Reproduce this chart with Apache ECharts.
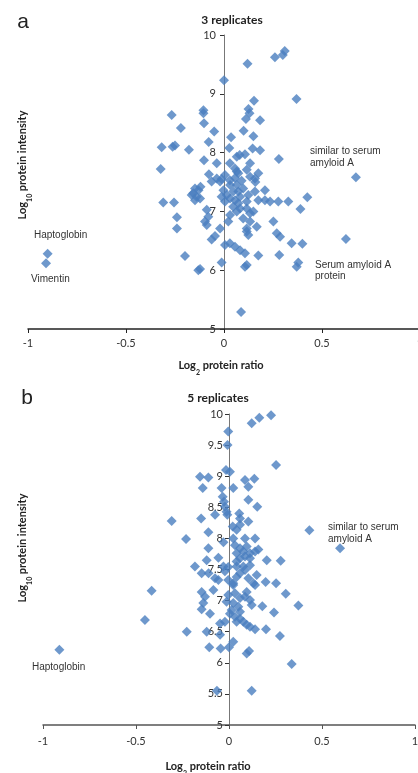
<!DOCTYPE html>
<html>
<head>
<meta charset="utf-8">
<script src="https://cdn.jsdelivr.net/npm/echarts@6/dist/echarts.min.js"></script>
<style>html,body{margin:0;padding:0;background:#fff;}#c{width:418px;height:773px;}</style>
</head>
<body>
<div id="c"></div>
<script>
// Panel a: 3 replicates  [log2 ratio, log10 intensity]
var rep3Points = [
  [0.00,9.23],[0.12,9.51],[0.26,9.62],[0.31,9.73],[0.30,9.66],[0.37,8.91],[0.153,8.88],[0.125,8.74],[0.13,8.67],
  [0.112,8.57],[0.184,8.55],[0.10,8.37],[0.15,8.28],[0.036,8.26],[0.027,8.08],[0.146,8.07],[0.184,8.04],
  [0.08,7.96],[0.065,7.93],[0.107,7.97],[0.28,7.89],[0.673,7.58],
  [-0.267,8.64],[-0.105,8.72],[-0.105,8.67],[-0.22,8.42],[-0.102,8.50],[-0.05,8.36],[-0.078,8.18],
  [-0.318,8.09],[-0.262,8.10],[-0.25,8.12],[-0.179,8.05],[-0.102,7.87],[-0.037,7.82],[-0.323,7.72],
  [-0.077,7.63],[-0.063,7.51],[-0.02,7.51],[-0.037,7.56],[0.005,7.62],
  [0.03,7.82],[0.056,7.73],[0.065,7.68],[0.073,7.65],[0.133,7.82],[0.116,7.71],[0.175,7.65],[0.133,7.59],[0.158,7.56],
  [-0.012,7.55],[0.03,7.53],[0.056,7.57],[0.09,7.52],[0.16,7.50],
  [-0.148,7.39],[-0.13,7.36],[-0.157,7.31],[-0.14,7.25],[-0.122,7.22],[-0.148,7.19],[-0.165,7.28],[-0.12,7.42],
  [-0.31,7.15],[-0.255,7.15],[-0.24,6.90],[-0.24,6.71],[-0.088,7.03],[-0.08,6.91],[-0.097,6.83],[-0.088,6.77],
  [-0.02,6.71],[-0.063,6.52],[-0.046,6.58],[-0.199,6.24],[-0.131,6.00],[-0.122,6.02],[-0.012,6.13],
  [0.014,7.28],[0.031,7.22],[0.005,7.17],[0.056,7.19],[0.073,7.14],[0.047,7.08],[0.082,7.05],[0.065,7.00],
  [0.031,6.94],[0.022,6.83],[0.116,7.05],[0.133,6.97],[0.15,7.00],[0.124,7.28],[0.098,7.39],[0.065,7.45],
  [0.031,7.45],[-0.003,7.36],[-0.012,7.25],[0.082,7.25],[0.047,7.34],[0.073,7.34],[0.116,7.17],
  [0.175,7.19],[0.209,7.19],[0.235,7.17],[0.277,7.17],[0.328,7.17],[0.209,7.36],[0.158,7.34],[0.425,7.24],
  [0.39,7.04],[0.252,6.83],[0.269,6.63],[0.286,6.57],[0.345,6.46],[0.40,6.45],[0.622,6.53],
  [0.116,6.71],[0.167,6.74],[0.133,6.83],[0.098,6.88],[0.116,6.66],[0.124,6.60],
  [0.005,6.43],[0.03,6.46],[0.056,6.40],[0.082,6.34],[0.107,6.29],
  [0.116,6.09],[0.107,6.06],[0.175,6.25],[0.282,6.26],[0.371,6.06],[0.379,6.13],[0.087,5.29],
  [-0.90,6.28],[-0.908,6.12]
];

// Panel b: 5 replicates
var rep5Points = [
  [0.226,9.98],[0.163,9.94],[0.122,9.85],[-0.004,9.72],[-0.008,9.50],[0.253,9.18],[-0.016,9.10],[0.005,9.07],
  [-0.156,8.99],[-0.111,8.98],[-0.141,8.81],[-0.04,8.81],[0.023,8.81],[0.086,8.94],[0.136,8.96],[0.104,8.83],
  [-0.034,8.67],[-0.027,8.59],[-0.022,8.51],[-0.013,8.43],[-0.009,8.38],[-0.075,8.38],[-0.15,8.32],[-0.308,8.28],
  [0.055,8.40],[0.059,8.32],[0.104,8.62],[0.152,8.51],[0.104,8.27],[0.02,8.19],[0.041,8.14],[0.059,8.22],
  [-0.111,8.10],[-0.231,7.99],[-0.03,7.94],[0.023,8.00],[0.086,8.00],[0.14,8.00],[-0.111,7.84],[-0.057,7.69],
  [-0.12,7.65],[0.032,7.89],[0.059,7.84],[0.077,7.79],[0.095,7.87],[0.113,7.76],[0.14,7.79],[0.158,7.82],
  [0.041,7.76],[0.086,7.71],[0.059,7.68],[0.113,7.68],[0.203,7.65],[0.278,7.64],[0.432,8.13],[0.597,7.84],
  [-0.183,7.55],[-0.147,7.44],[-0.075,7.36],[-0.11,7.44],[-0.057,7.33],[-0.03,7.55],[-0.004,7.54],[0.041,7.63],
  [0.077,7.55],[0.113,7.57],[-0.022,7.47],[0.041,7.55],
  [-0.416,7.16],[-0.452,6.69],[-0.227,6.50],[-0.147,7.14],[-0.129,7.06],[-0.138,6.96],[-0.147,6.86],
  [-0.102,6.79],[-0.084,7.17],[-0.12,6.50],[-0.048,6.45],[-0.048,6.63],[-0.022,6.66],
  [-0.106,6.25],[-0.045,6.23],[0.0,6.25],[0.023,6.34],[0.095,6.15],[0.108,6.19],
  [-0.065,5.55],[0.122,5.55],[0.337,5.98],
  [0.305,7.11],[0.373,6.92],[0.242,6.81],[0.274,6.43],[0.199,6.54],[0.14,6.54],[0.179,6.91],[0.253,7.28],[0.197,7.30],
  [-0.004,7.33],[0.023,7.28],[0.041,7.38],[0.059,7.44],[0.086,7.49],[0.104,7.36],[0.131,7.28],[0.149,7.41],
  [0.032,7.12],[0.059,7.04],[0.086,7.06],[0.113,7.01],[0.122,6.93],[0.023,6.96],[0.05,6.90],[0.005,6.79],
  [0.032,6.74],[0.059,6.71],[0.077,6.66],[0.095,6.61],[0.041,6.66],[0.059,6.82],[0.095,7.14],[0.14,7.25],
  [-0.004,7.09],[0.014,6.85],[0.113,6.58],[0.023,7.25],[-0.013,6.98],
  [-0.912,6.21]
];

var xRange = [-1, 1];
var yRangeA = [5, 10];
var yRangeB = [5, 10];

var chart = echarts.init(document.getElementById('c'), null, {renderer: 'canvas'});
var tickFont = 'Lato, "Open Sans", sans-serif';
var annFont = '"Liberation Sans", Arial, sans-serif';
var blue = '#4a7ebf';
var grids = [
  {left: 28, top: 35, width: 392, height: 294, outerBoundsMode: 'none', containLabel: false},
  {left: 43, top: 414, width: 372, height: 311, outerBoundsMode: 'none', containLabel: false}
];

function xAx(gi, lineColor, margin) {
  return {
    type: 'value', gridIndex: gi, min: xRange[0], max: xRange[1], interval: 0.5,
    axisLine: {onZero: false, lineStyle: {color: lineColor, width: 1.5}},
    axisTick: {show: true, length: 4, lineStyle: {color: lineColor}},
    axisLabel: {color: '#333', fontSize: 11, fontFamily: tickFont, margin: margin, hideOverlap: false,
      formatter: function (v) { return String(v); }},
    splitLine: {show: false}
  };
}
function yAx(gi, rng, iv, margin) {
  return {
    type: 'value', gridIndex: gi, min: rng[0], max: rng[1], interval: iv, offset: 0,
    axisLine: {onZero: false, lineStyle: {color: '#777', width: 1}},
    axisTick: {show: true, length: 4, lineStyle: {color: '#333'}},
    axisLabel: {color: '#333', fontSize: 11, fontFamily: tickFont, margin: margin, hideOverlap: false,
      formatter: function (v) { return String(v); }},
    splitLine: {show: false}
  };
}

function txt(x, y, text, opts) {
  opts = opts || {};
  return {
    type: 'text', x: x, y: y, rotation: opts.rotation || 0, z: 100,
    style: {
      text: text,
      font: opts.font || ('10px ' + annFont),
      fill: opts.fill || '#333',
      align: opts.align || 'left', verticalAlign: 'middle',
      textAlign: opts.align || 'left', textVerticalAlign: 'middle',
      rich: opts.rich
    }
  };
}

var richAxisTitle = {
  b: {fontSize: 11, fontWeight: 'bold', fontFamily: tickFont, fill: '#222', color: '#222', lineHeight: 14, verticalAlign: 'middle'},
  s: {fontSize: 7, fontWeight: 'bold', fontFamily: tickFont, fill: '#222', color: '#222', lineHeight: 14, verticalAlign: 'bottom', padding: [0, 0, -4, 0]}
};

var yAxes = [yAx(0, yRangeA, 1, 8), yAx(1, yRangeB, 0.5, 6)];

chart.setOption({
  animation: false,
  backgroundColor: '#fff',
  grid: grids,
  xAxis: [xAx(0, '#222', 9), xAx(1, '#555', 11)],
  yAxis: yAxes,
  series: [
    {type: 'scatter', xAxisIndex: 0, yAxisIndex: 0, data: rep3Points, symbol: 'diamond', symbolSize: 10,
      itemStyle: {color: blue}},
    {type: 'scatter', xAxisIndex: 1, yAxisIndex: 1, data: rep5Points, symbol: 'diamond', symbolSize: 10,
      itemStyle: {color: blue}}
  ],
  graphic: [
    txt(23, 22, 'a', {font: '21px ' + annFont, fill: '#222', align: 'center'}),
    txt(27, 398, 'b', {font: '21px ' + annFont, fill: '#222', align: 'center'}),
    txt(232, 20, '3 replicates', {font: 'bold 12px ' + tickFont, fill: '#222', align: 'center'}),
    txt(218, 398, '5 replicates', {font: 'bold 12px ' + tickFont, fill: '#222', align: 'center'}),
    txt(221, 365, '{b|Log}{s|2}{b| protein ratio}', {align: 'center', rich: richAxisTitle}),
    txt(208, 766, '{b|Log}{s|2}{b| protein ratio}', {align: 'center', rich: richAxisTitle}),
    txt(22, 165, '{b|Log}{s|10}{b| protein intensity}', {align: 'center', rotation: Math.PI / 2, rich: richAxisTitle}),
    txt(22, 548, '{b|Log}{s|10}{b| protein intensity}', {align: 'center', rotation: Math.PI / 2, rich: richAxisTitle}),
    txt(34, 235, 'Haptoglobin'),
    txt(31, 279, 'Vimentin'),
    txt(310, 151, 'similar to serum'),
    txt(310, 163, 'amyloid A'),
    txt(315, 265, 'Serum amyloid A'),
    txt(315, 276, 'protein'),
    txt(32, 667, 'Haptoglobin'),
    txt(328, 527, 'similar to serum'),
    txt(328, 539, 'amyloid A')
  ]
});

// Move each y axis to x = 0 using the library's own x scale.
var offs = [0, 1].map(function (i) {
  var px0 = chart.convertToPixel({xAxisIndex: i}, 0);
  return -(px0 - grids[i].left);
});
chart.setOption({yAxis: [{offset: offs[0]}, {offset: offs[1]}]});
</script>
</body>
</html>
